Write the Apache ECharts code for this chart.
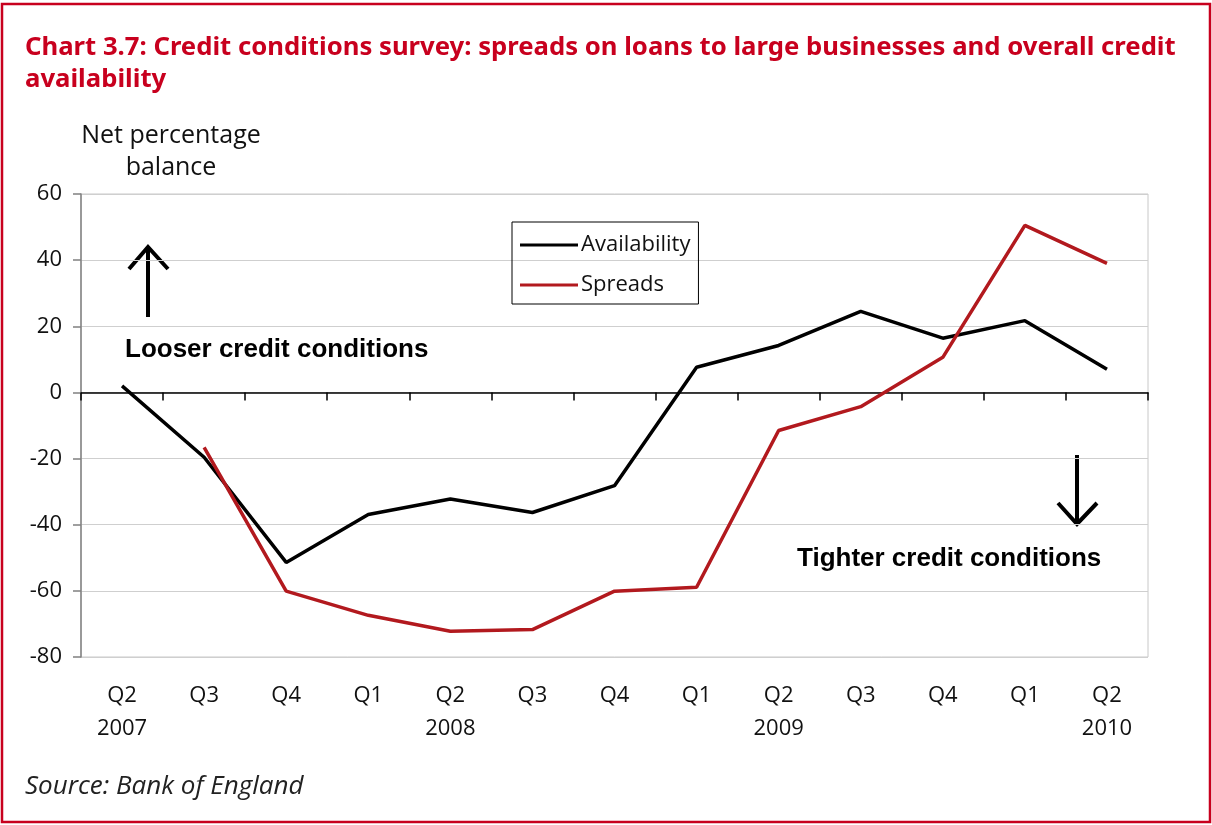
<!DOCTYPE html>
<html>
<head>
<meta charset="utf-8">
<script src="https://cdn.jsdelivr.net/npm/echarts@6/dist/echarts.min.js"></script>
<style>
  html, body { margin: 0; padding: 0; background: #fff; }
  #chart { width: 1212px; height: 825px; }
</style>
</head>
<body>
<div id="chart"></div>
<script>
// quarters, Q2 2007 to Q2 2010
var quarters = ['Q2\n2007', 'Q3', 'Q4', 'Q1', 'Q2\n2008', 'Q3', 'Q4', 'Q1', 'Q2\n2009', 'Q3', 'Q4', 'Q1', 'Q2\n2010'];
var availability = [2, -19.6, -51.4, -36.9, -32.2, -36.3, -28.2, 7.6, 14.2, 24.5, 16.4, 21.7, 7];
var spreads = ['-', -16.6, -60.1, -67.4, -72.2, -71.7, -60.1, -58.9, -11.5, -4.3, 10.6, 50.5, 39];
var yTicks = { min: -80, max: 60, step: 20 };

var red = '#c8001e';
var font = '"Open Sans", "Noto Sans", sans-serif';
var boldFont = '"Liberation Sans", Arial, sans-serif';

var myChart = echarts.init(document.getElementById('chart'));
myChart.setOption({
    animation: false,
    title: [{
        text: 'Chart 3.7: Credit conditions survey: spreads on loans to large businesses and overall credit\navailability',
        left: 25, top: 32, padding: 0,
        textStyle: { color: red, fontSize: 25.7, fontWeight: 'bold', fontFamily: '"Noto Sans", sans-serif', lineHeight: 32 }
    }, {
        text: 'Net percentage\nbalance',
        left: 171, top: 120, padding: 0, textAlign: 'center',
        textStyle: { color: '#111', fontSize: 25, fontWeight: 'normal', fontFamily: font, lineHeight: 32, align: 'center' }
    }, {
        text: 'Source: Bank of England',
        left: 25, top: 772, padding: 0,
        textStyle: { color: '#222', fontSize: 26, fontWeight: 'normal', fontStyle: 'italic', fontFamily: font, lineHeight: 30 }
    }, {
        text: 'Looser credit conditions',
        left: 125, top: 336, padding: 0,
        textStyle: { color: '#000', fontSize: 26, fontWeight: 'bold', fontFamily: boldFont, lineHeight: 28 }
    }, {
        text: 'Tighter credit conditions',
        left: 797, top: 545, padding: 0,
        textStyle: { color: '#000', fontSize: 26, fontWeight: 'bold', fontFamily: boldFont, lineHeight: 28 }
    }],
    legend: {
        orient: 'vertical',
        left: 512, top: 222,
        padding: [12, 8, 8, 8],
        itemGap: 18,
        itemWidth: 58, itemHeight: 3,
        icon: 'rect',
        borderColor: '#000', borderWidth: 1,
        textStyle: { fontSize: 22, color: '#111', fontFamily: font, padding: [0, 0, 0, -2] },
        data: ['Availability', 'Spreads']
    },
    grid: { left: 81, right: 64, top: 194, bottom: 168, show: true, borderColor: '#c8c8c8', borderWidth: 1 },
    xAxis: [{
        type: 'category',
        data: quarters,
        boundaryGap: true,
        position: 'bottom',
        axisLine: { show: false, onZero: false },
        axisTick: { show: false },
        axisLabel: { interval: 0, fontSize: 22, lineHeight: 33, margin: 22, color: '#111', fontFamily: font }
    }, {
        type: 'category',
        data: quarters,
        boundaryGap: true,
        position: 'top',
        axisLine: { show: true, onZero: true, lineStyle: { color: '#000', width: 1.5 } },
        axisTick: { show: true, inside: true, length: 8, lineStyle: { color: '#000', width: 1.5 } },
        axisLabel: { show: false }
    }],
    yAxis: {
        type: 'value',
        min: yTicks.min, max: yTicks.max, interval: yTicks.step,
        axisLine: { show: true, onZero: false, lineStyle: { color: '#808080', width: 1.5 } },
        axisTick: { show: true, length: 8, lineStyle: { color: '#808080', width: 1.5 } },
        splitLine: { lineStyle: { color: '#cfcfcf', width: 1.2 } },
        axisLabel: { fontSize: 22, color: '#111', margin: 19, fontFamily: font }
    },
    series: [{
        name: 'Availability',
        type: 'line',
        xAxisIndex: 0,
        data: availability,
        symbol: 'none',
        color: '#000',
        lineStyle: { width: 3.5, color: '#000' }
    }, {
        name: 'Spreads',
        type: 'line',
        xAxisIndex: 0,
        data: spreads,
        symbol: 'none',
        color: '#b2191e',
        lineStyle: { width: 3.5, color: '#b2191e' }
    }],
    graphic: [
        // frame
        { type: 'rect', shape: { x: 2, y: 4, width: 1208, height: 818 }, style: { fill: 'none', stroke: red, lineWidth: 2.5 }, silent: true },
        // arrows
        { type: 'polyline', shape: { points: [[148, 317], [148, 248]] }, style: { stroke: '#000', lineWidth: 4, fill: 'none' } },
        { type: 'polyline', shape: { points: [[129, 269], [148, 247], [168, 269]] }, style: { stroke: '#000', lineWidth: 4, fill: 'none' } },
        { type: 'polyline', shape: { points: [[1077, 455], [1077, 523]] }, style: { stroke: '#000', lineWidth: 4, fill: 'none' } },
        { type: 'polyline', shape: { points: [[1058, 503], [1077, 524], [1097, 503]] }, style: { stroke: '#000', lineWidth: 4, fill: 'none' } }
    ]
});
</script>
</body>
</html>
